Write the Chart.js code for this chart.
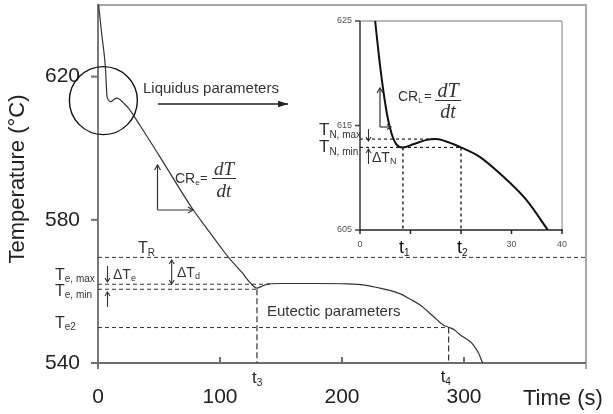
<!DOCTYPE html>
<html><head><meta charset="utf-8">
<script src="https://cdn.jsdelivr.net/npm/chart.js@4/dist/chart.umd.min.js"></script>
<style>
html,body{margin:0;padding:0;background:#fff;}
#wrap{position:relative;width:613px;height:414px;overflow:hidden;}
#main{position:absolute;left:0;top:0;}
#inset{position:absolute;left:300px;top:0;}
</style></head><body>
<div id="wrap">
<canvas id="main" width="613" height="414"></canvas>
<canvas id="inset" width="300" height="260"></canvas>
</div>
<script>
// ---------- DATA ----------
// main cooling curve: time (s) and temperature (°C)
const mainTime = [0.5, 3, 6, 7.4, 9, 10.5, 13, 15.6, 18, 21, 25, 34.7, 50, 77, 90, 100.2, 107, 118, 124.8, 130.3, 134, 140, 150, 180, 204, 220, 231, 240, 247.8, 256, 264, 275, 283, 287.4, 292, 297, 302, 306.6, 312, 314.8, 316];
const mainTemp = [640.1, 632, 622.9, 614.5, 613.3, 613.0, 613.6, 614.0, 613.6, 612.6, 611.2, 606.2, 598.0, 583.3, 577.2, 572.5, 569.5, 565.3, 562.4, 560.9, 561.4, 562.1, 562.2, 562.2, 562.1, 561.7, 560.9, 560.2, 559.3, 557.8, 556.2, 553.0, 550.6, 550.0, 549.3, 547.8, 546.7, 545.5, 542.7, 540.4, 539.5];
const mainXTicks = [0, 100, 200, 300];
const mainYTicks = [540, 580, 620];
// characteristic eutectic values
const T_R = 569.5, T_eMax = 562.0, T_eMin = 560.6, T_e2 = 549.9;
const t3 = 130.3, t4 = 287.4, tPlateau = 141;

// inset (liquidus region)
const insetTime = [3, 4, 5.3, 6.2, 7.2, 8.5, 10.5, 13, 15, 17.5, 20, 23.7, 27.7, 32.9, 37.2];
const insetTemp = [625, 620.6, 616.2, 614.3, 613.2, 612.9, 613.2, 613.6, 613.7, 613.4, 612.9, 612.0, 610.4, 607.9, 605.0];
const insetXTickMarks = [0, 10, 20, 30, 40];
const insetXLabels = [0, 30, 40];
const insetYTicks = [605, 615, 625];
const T_Nmax = 613.7, T_Nmin = 612.9, t1 = 8.5, t2 = 20, tNmax = 15.5;

// ---------- HELPERS ----------
const FONT = "'Liberation Sans', Arial, sans-serif";
const SERIF = "'Liberation Serif', 'Times New Roman', serif";
function txt(ctx, s, x, y, size, o = {}) {
  ctx.font = (o.style || '') + ' ' + size + 'px ' + (o.family || FONT);
  ctx.fillStyle = o.color || '#222';
  ctx.textAlign = o.align || 'left';
  ctx.textBaseline = o.baseline || 'alphabetic';
  ctx.fillText(s, x, y);
  return ctx.measureText(s).width;
}
function sub(ctx, base, s, x, y, size, subSize, dy, o = {}) {
  const w = txt(ctx, base, x, y, size, o);
  txt(ctx, s, x + w, y + dy, subSize, o);
}
function seg(ctx, x1, y1, x2, y2, color, w, dash) {
  ctx.save();
  ctx.strokeStyle = color; ctx.lineWidth = w; ctx.setLineDash(dash || []);
  ctx.beginPath(); ctx.moveTo(x1, y1); ctx.lineTo(x2, y2); ctx.stroke();
  ctx.restore();
}
function head(ctx, x, y, ang, len, half, color, filled, w) {
  ctx.save();
  ctx.translate(x, y); ctx.rotate(ang);
  ctx.strokeStyle = color; ctx.fillStyle = color; ctx.lineWidth = w || 1;
  ctx.beginPath(); ctx.moveTo(-len, -half); ctx.lineTo(0, 0); ctx.lineTo(-len, half);
  if (filled) { ctx.closePath(); ctx.fill(); } else ctx.stroke();
  ctx.restore();
}
function arrow(ctx, x1, y1, x2, y2, color, w, len, half, filled) {
  seg(ctx, x1, y1, x2, y2, color, w);
  head(ctx, x2, y2, Math.atan2(y2 - y1, x2 - x1), len, half, color, filled, w);
}
function noPadY(s, w) { s.width = w; s.paddingTop = 0; s.paddingBottom = 0; }
function noPadX(s, h) { s.height = h; s.paddingLeft = 0; s.paddingRight = 0; }

// ---------- MAIN CHART ----------
const mainDecor = {
  id: 'mainDecor',
  beforeDatasetsDraw(chart) {
    const { ctx, chartArea: a, scales: { x, y } } = chart;
    ctx.save();
    seg(ctx, a.left, a.top, a.right, a.top, '#a8a8a8', 2);
    seg(ctx, a.right, a.top - 1, a.right, a.bottom + 6, '#a8a8a8', 2);
    seg(ctx, a.left, a.top - 1, a.left, a.bottom + 6, '#7a7a7a', 2);
    seg(ctx, a.left, a.bottom, a.right, a.bottom, '#6e6e6e', 2);
    mainYTicks.forEach(v => { const p = y.getPixelForValue(v); seg(ctx, a.left - 7, p, a.left, p, '#6e6e6e', 2); });
    mainXTicks.slice(1).forEach(v => { const p = x.getPixelForValue(v); seg(ctx, p, a.bottom, p, a.bottom - 6, '#6e6e6e', 2); });
    const d = [4, 3], c = '#333';
    seg(ctx, x.getPixelForValue(0), y.getPixelForValue(T_R), x.getPixelForValue(400), y.getPixelForValue(T_R), c, 1, d);
    seg(ctx, x.getPixelForValue(0), y.getPixelForValue(T_eMax), x.getPixelForValue(tPlateau), y.getPixelForValue(T_eMax), c, 1, d);
    seg(ctx, x.getPixelForValue(0), y.getPixelForValue(T_eMin), x.getPixelForValue(t3), y.getPixelForValue(T_eMin), c, 1, d);
    seg(ctx, x.getPixelForValue(0), y.getPixelForValue(T_e2), x.getPixelForValue(t4), y.getPixelForValue(T_e2), c, 1, d);
    seg(ctx, x.getPixelForValue(t3), y.getPixelForValue(T_eMin), x.getPixelForValue(t3), y.getPixelForValue(540), c, 1.2, [6, 3]);
    seg(ctx, x.getPixelForValue(t4), y.getPixelForValue(T_e2), x.getPixelForValue(t4), y.getPixelForValue(540), c, 1.2, [6, 3]);
    ctx.restore();
  },
  afterDraw(chart) {
    const { ctx, scales: { x, y } } = chart;
    ctx.save();
    ctx.strokeStyle = '#111'; ctx.lineWidth = 1.4;
    ctx.beginPath(); ctx.arc(x.getPixelForValue(4.4), y.getPixelForValue(613.3), 34, 0, Math.PI * 2); ctx.stroke();
    txt(ctx, 'Liquidus parameters', 143, 93, 15, { color: '#333' });
    arrow(ctx, 158, 104, 288, 104, '#222', 1.5, 10, 3.2, true);
    sub(ctx, 'CR', 'e', 175, 183, 14, 8, 2, { color: '#333' });
    txt(ctx, '=', 200, 182, 13, { color: '#333' });
    txt(ctx, 'dT', 224, 175, 19, { family: SERIF, style: 'italic', align: 'center', color: '#333' });
    seg(ctx, 212, 178.5, 236, 178.5, '#333', 1);
    txt(ctx, 'dt', 224, 197, 19, { family: SERIF, style: 'italic', align: 'center', color: '#333' });
    arrow(ctx, 157.5, 210, 157.5, 165, '#333', 1.2, 5, 3, false);
    arrow(ctx, 157.5, 210, 193, 210, '#333', 1.2, 5, 3, false);
    sub(ctx, 'T', 'R', 138, 253, 16, 10, 3, { color: '#333' });
    sub(ctx, 'T', 'e, max', 55, 280, 16, 10, 2, { color: '#333' });
    sub(ctx, 'T', 'e, min', 55, 296, 16, 10, 2, { color: '#333' });
    sub(ctx, 'T', 'e2', 55, 328, 16, 10, 2, { color: '#333' });
    arrow(ctx, 107.5, 266, 107.5, 282, '#333', 1.1, 4, 2.5, false);
    arrow(ctx, 107.5, 307, 107.5, 292, '#333', 1.1, 4, 2.5, false);
    sub(ctx, 'ΔT', 'e', 113, 279, 14, 9, 2, { color: '#333' });
    seg(ctx, 171.7, 261, 171.7, 283, '#333', 1.1);
    head(ctx, 171.7, 260, -Math.PI / 2, 4, 2.5, '#333', false, 1.1);
    head(ctx, 171.7, 284, Math.PI / 2, 4, 2.5, '#333', false, 1.1);
    sub(ctx, 'ΔT', 'd', 177, 277, 14, 9, 2, { color: '#333' });
    sub(ctx, 't', '3', x.getPixelForValue(t3) - 5, 383, 17, 10, 3, { color: '#222' });
    sub(ctx, 't', '4', x.getPixelForValue(t4) - 8, 382, 17, 10, 3, { color: '#222' });
    txt(ctx, 'Eutectic parameters', 267, 316, 15, { color: '#333' });
    txt(ctx, 'Time (s)', 523, 405, 22, { color: '#222' });
    ctx.save();
    ctx.translate(18, 179); ctx.rotate(-Math.PI / 2);
    txt(ctx, 'Temperature (°C)', 0, 0, 22, { align: 'center', baseline: 'middle', color: '#222' });
    ctx.restore();
    ctx.restore();
  }
};

new Chart(document.getElementById('main'), {
  type: 'scatter',
  data: { datasets: [{
    data: mainTime.map((t, i) => ({ x: t, y: mainTemp[i] })),
    showLine: true, borderColor: '#333', borderWidth: 1.2, pointRadius: 0,
    cubicInterpolationMode: 'monotone'
  }] },
  options: {
    responsive: false, animation: false, devicePixelRatio: 1,
    layout: { padding: { top: 5, right: 27, left: 0, bottom: 0 } },
    plugins: { legend: { display: false }, tooltip: { enabled: false } },
    scales: {
      x: {
        type: 'linear', min: 0, max: 400,
        afterBuildTicks: s => { s.ticks = mainXTicks.map(v => ({ value: v })); },
        afterFit: s => noPadX(s, 51),
        grid: { display: false, drawTicks: false }, border: { display: false },
        ticks: { font: { family: FONT, size: 21 }, color: '#222', padding: 22, maxRotation: 0 }
      },
      y: {
        type: 'linear', min: 540, max: 640,
        afterBuildTicks: s => { s.ticks = mainYTicks.map(v => ({ value: v })); },
        afterFit: s => noPadY(s, 98),
        grid: { display: false, drawTicks: false }, border: { display: false },
        ticks: { font: { family: FONT, size: 21 }, color: '#222', padding: 18 }
      }
    }
  },
  plugins: [mainDecor]
});

// ---------- INSET CHART ----------
const OX = 300;
const insetDecor = {
  id: 'insetDecor',
  beforeDatasetsDraw(chart) {
    const { ctx, chartArea: a, scales: { x, y } } = chart;
    seg(ctx, a.left, a.top, a.right, a.top, '#a0a0a0', 1.3);
    seg(ctx, a.right, a.top, a.right, a.bottom, '#a0a0a0', 1.3);
    seg(ctx, a.left, a.top, a.left, a.bottom, '#444', 1.6);
    seg(ctx, a.left - 1, a.bottom, a.right + 1, a.bottom, '#222', 1.6);
    insetYTicks.forEach(v => { const p = y.getPixelForValue(v); seg(ctx, a.left - 5, p, a.left, p, '#444', 1.5); });
    insetXTickMarks.forEach(v => { const p = x.getPixelForValue(v); seg(ctx, p, a.bottom, p, a.bottom + 4, '#222', 1.5); });
    const d = [3, 3], c = '#222';
    seg(ctx, x.getPixelForValue(0), y.getPixelForValue(T_Nmax), x.getPixelForValue(tNmax), y.getPixelForValue(T_Nmax), c, 1.2, d);
    seg(ctx, x.getPixelForValue(0), y.getPixelForValue(T_Nmin), x.getPixelForValue(t2), y.getPixelForValue(T_Nmin), c, 1.2, d);
    seg(ctx, x.getPixelForValue(t1), y.getPixelForValue(T_Nmin), x.getPixelForValue(t1), y.getPixelForValue(605), c, 1.4, d);
    seg(ctx, x.getPixelForValue(t2), y.getPixelForValue(T_Nmin), x.getPixelForValue(t2), y.getPixelForValue(605), c, 1.4, d);
  },
  afterDraw(chart) {
    const { ctx, scales: { x } } = chart;
    ctx.save();
    ctx.translate(-OX, 0);
    sub(ctx, 'T', 'N, max', 319, 135, 17, 10, 3, { color: '#333' });
    sub(ctx, 'T', 'N, min', 319, 152, 17, 10, 3, { color: '#333' });
    arrow(ctx, 368.5, 129, 368.5, 141, '#333', 1.1, 4, 2.5, false);
    arrow(ctx, 368.5, 164, 368.5, 149, '#333', 1.1, 4, 2.5, false);
    sub(ctx, 'ΔT', 'N', 372, 162, 14, 9, 2, { color: '#333' });
    sub(ctx, 'CR', 'L', 398, 101, 14, 8, 2, { color: '#333' });
    txt(ctx, '=', 424, 100, 13, { color: '#333' });
    txt(ctx, 'dT', 448, 97, 20, { family: SERIF, style: 'italic', align: 'center', color: '#333' });
    seg(ctx, 435, 100.5, 461, 100.5, '#333', 1);
    txt(ctx, 'dt', 448, 118, 20, { family: SERIF, style: 'italic', align: 'center', color: '#333' });
    arrow(ctx, 380, 127, 380, 88, '#333', 1.2, 5, 3, false);
    arrow(ctx, 380, 127, 391, 127, '#333', 1.2, 4, 2.5, false);
    sub(ctx, 't', '1', x.getPixelForValue(t1) + OX - 4, 253, 18, 10, 3, { color: '#111' });
    sub(ctx, 't', '2', x.getPixelForValue(t2) + OX - 4, 253, 18, 10, 3, { color: '#111' });
    ctx.restore();
  }
};

new Chart(document.getElementById('inset'), {
  type: 'scatter',
  data: { datasets: [{
    data: insetTime.map((t, i) => ({ x: t, y: insetTemp[i] })),
    showLine: true, borderColor: '#111', borderWidth: 2, pointRadius: 0,
    cubicInterpolationMode: 'monotone'
  }] },
  options: {
    responsive: false, animation: false, devicePixelRatio: 1,
    layout: { padding: { top: 21, right: 38, left: 0, bottom: 0 } },
    plugins: { legend: { display: false }, tooltip: { enabled: false } },
    scales: {
      x: {
        type: 'linear', min: 0, max: 40,
        afterBuildTicks: s => { s.ticks = insetXLabels.map(v => ({ value: v })); },
        afterFit: s => noPadX(s, 30),
        grid: { display: false, drawTicks: false }, border: { display: false },
        ticks: { font: { family: FONT, size: 9 }, color: '#555', padding: 9, maxRotation: 0 }
      },
      y: {
        type: 'linear', min: 605, max: 625,
        afterBuildTicks: s => { s.ticks = insetYTicks.map(v => ({ value: v })); },
        afterFit: s => noPadY(s, 60),
        grid: { display: false, drawTicks: false }, border: { display: false },
        ticks: { font: { family: FONT, size: 9 }, color: '#555', padding: 8 }
      }
    }
  },
  plugins: [insetDecor]
});
</script>
</body></html>
